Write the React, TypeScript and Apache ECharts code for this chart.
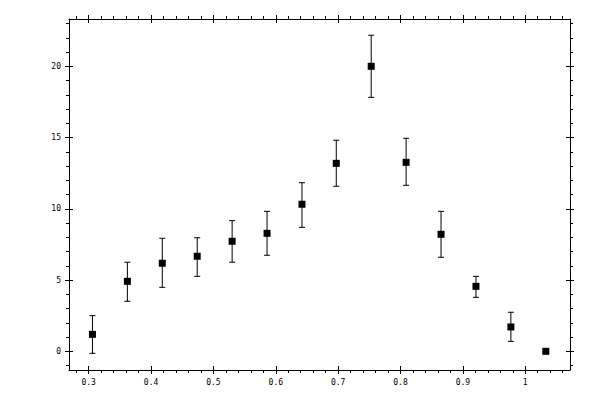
import * as echarts from "echarts";
import { useEffect, useRef } from "react";

// measured points (x, value, lower and upper end of the error bar)
const xValues = [0.306, 0.362, 0.418, 0.474, 0.53, 0.586, 0.642, 0.697, 0.753, 0.809, 0.865, 0.921, 0.977, 1.033];
const yValues = [1.19, 4.91, 6.18, 6.67, 7.72, 8.28, 10.32, 13.19, 20.0, 13.26, 8.21, 4.56, 1.71, 0];
const errLow = [-0.14, 3.51, 4.49, 5.26, 6.25, 6.74, 8.7, 11.58, 17.82, 11.65, 6.6, 3.79, 0.7, 0];
const errHigh = [2.5, 6.25, 7.93, 7.97, 9.17, 9.82, 11.83, 14.81, 22.18, 14.95, 9.82, 5.26, 2.74, 0];

const xTicks = [0.3, 0.4, 0.5, 0.6, 0.7, 0.8, 0.9, 1];
const yTicks = [0, 5, 10, 15, 20];

const X_MIN = 0.2684;
const X_MAX = 1.0718;
const Y_MIN = -1.312;
const Y_MAX = 23.32;

function minors(from: number, to: number, step: number, majors: number[]) {
  const out: number[] = [];
  for (let v = from; v <= to + 1e-9; v += step) {
    const r = Math.round(v * 1000) / 1000;
    if (!majors.some((m) => Math.abs(m - r) < 1e-6)) out.push(r);
  }
  return out;
}
const xMinor = minors(0.28, 1.06, 0.02, xTicks);
const yMinor = minors(-1, 23, 1, yTicks);

const black = { color: "#000", width: 1 };
const font = { fontFamily: "DejaVu Sans Mono", fontSize: 8, color: "#000" };

function axis(
  type: "x" | "y",
  position: string,
  values: number[],
  len: number,
  inside: boolean,
  line: boolean,
  labels: boolean
) {
  return {
    type: "value",
    position,
    min: type === "x" ? X_MIN : Y_MIN,
    max: type === "x" ? X_MAX : Y_MAX,
    axisLine: { show: line, onZero: false, lineStyle: black },
    axisTick: { show: true, inside, length: len, customValues: values, lineStyle: black },
    axisLabel: labels
      ? { show: true, customValues: values, margin: 8, ...font }
      : { show: false },
    splitLine: { show: false },
  };
}

const App = () => {
  const chartRef = useRef<HTMLDivElement>(null);

  useEffect(() => {
    const myChart = echarts.init(chartRef.current, null, { renderer: "svg" });
    myChart.setOption({
      animation: false,
      grid: { left: 69, right: 30, top: 19, bottom: 30 },
      xAxis: [
        axis("x", "bottom", xTicks, 4, false, true, true),
        axis("x", "bottom", xTicks, 4, true, false, false),
        axis("x", "bottom", xMinor, 3, false, false, false),
        axis("x", "top", xTicks, 4, false, true, false),
        axis("x", "top", xTicks, 4, true, false, false),
        axis("x", "top", xMinor, 3, false, false, false),
      ],
      yAxis: [
        axis("y", "left", yTicks, 4, false, true, true),
        axis("y", "left", yTicks, 4, true, false, false),
        axis("y", "left", yMinor, 3, false, false, false),
        axis("y", "right", yTicks, 4, false, true, false),
        axis("y", "right", yTicks, 4, true, false, false),
        axis("y", "right", yMinor, 3, false, false, false),
      ],
      series: [
        {
          type: "custom",
          z: 1,
          data: xValues.map((x, i) => [x, errLow[i], errHigh[i]]),
          renderItem: (params: any, api: any) => {
            const lo = api.coord([api.value(0), api.value(1)]);
            const hi = api.coord([api.value(0), api.value(2)]);
            if (Math.abs(lo[1] - hi[1]) < 0.5) return null;
            const w = 3;
            const style = { stroke: "#000", lineWidth: 1 };
            return {
              type: "group",
              children: [
                { type: "line", shape: { x1: lo[0], y1: lo[1], x2: hi[0], y2: hi[1] }, style },
                { type: "line", shape: { x1: lo[0] - w, y1: lo[1], x2: lo[0] + w, y2: lo[1] }, style },
                { type: "line", shape: { x1: hi[0] - w, y1: hi[1], x2: hi[0] + w, y2: hi[1] }, style },
              ],
            };
          },
        },
        {
          type: "scatter",
          z: 2,
          symbol: "rect",
          symbolSize: 7,
          itemStyle: { color: "#000", opacity: 1 },
          data: xValues.map((x, i) => [x, yValues[i]]),
        },
      ],
    });
    return () => {
      myChart.dispose();
    };
  }, []);

  return (
    <div
      ref={chartRef}
      style={{ position: "absolute", left: 0, top: 0, width: "600px", height: "400px", background: "#fff" }}
    ></div>
  );
};

export default App;
